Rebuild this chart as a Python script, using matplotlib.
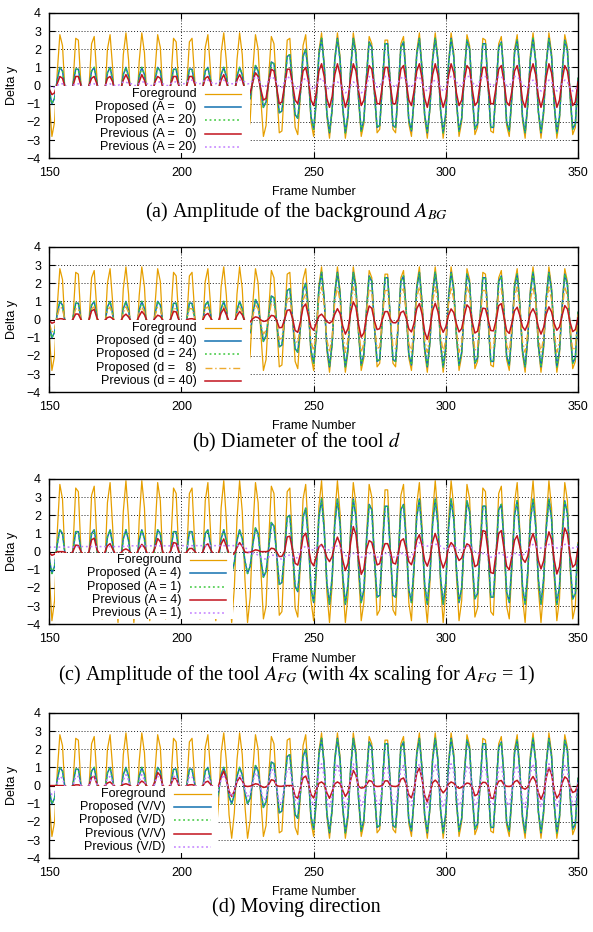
import matplotlib
matplotlib.use('Agg')
import matplotlib.pyplot as plt
from matplotlib.patches import Rectangle

plt.rcParams['font.family'] = ['Liberation Sans', 'DejaVu Sans']
plt.rcParams['mathtext.fontset'] = 'stix'

# ---- data (frame 150 .. 350, one value per frame) ----
FRAMES = list(range(150, 351))

FG = [
    -0.9, -2.8, -2.0, 0.7, 2.8, 2.2, -0.5, -2.7, -2.3, 0.2,
    2.6, 2.5, 0.0, -2.5, -2.6, -0.2, 2.3, 2.7, 0.5, -2.2,
    -2.8, -0.7, 2.0, 2.8, 0.9, -1.9, -2.9, -1.2, 1.7, 2.9,
    1.4, -1.5, -2.9, -1.6, 1.3, 2.9, 1.8, -1.0, -2.9, -1.9,
    0.8, 2.8, 2.1, -0.6, -2.7, -2.3, 0.3, 2.6, 2.4, -0.1,
    -2.5, -2.5, -0.1, 2.4, 2.6, 0.4, -2.3, -2.7, -0.6, 2.1,
    2.8, 0.8, -1.9, -2.9, -1.0, 1.8, 2.9, 1.3, -1.6, -2.9,
    -1.5, 1.4, 2.9, 1.7, -1.1, -2.9, -1.9, 0.9, 2.8, 2.0,
    -0.7, -2.8, -2.2, 0.5, 2.7, 2.3, -0.2, -2.6, -2.5, 0.0,
    2.5, 2.6, 0.2, -2.3, -2.7, -0.5, 2.2, 2.8, 0.7, -2.0,
    -2.8, -0.9, 1.9, 2.9, 1.2, -1.7, -2.9, -1.4, 1.5, 2.9,
    1.6, -1.3, -2.9, -1.8, 1.0, 2.9, 1.9, -0.8, -2.8, -2.1,
    0.6, 2.7, 2.3, -0.4, -2.6, -2.4, 0.1, 2.5, 2.5, 0.1,
    -2.4, -2.6, -0.3, 2.3, 2.7, 0.6, -2.1, -2.8, -0.8, 1.9,
    2.9, 1.0, -1.8, -2.9, -1.3, 1.6, 2.9, 1.5, -1.4, -2.9,
    -1.7, 1.2, 2.9, 1.8, -0.9, -2.8, -2.0, 0.7, 2.8, 2.2,
    -0.5, -2.7, -2.3, 0.2, 2.6, 2.5, 0.0, -2.5, -2.6, -0.2,
    2.3, 2.7, 0.5, -2.2, -2.8, -0.7, 2.0, 2.8, 0.9, -1.9,
    -2.9, -1.1, 1.7, 2.9, 1.4, -1.5, -2.9, -1.6, 1.3, 2.9,
    1.8, -1.1, -2.9, -1.9, 0.8, 2.8, 2.1, -0.6, -2.7, -2.3,
    0.4]

PROP = [
    -0.3, -1.0, -0.7, 0.3, 1.0, 0.8, -0.2, -1.0, -0.8, 0.1,
    0.9, 0.9, 0.0, -0.9, -0.9, -0.1, 0.8, 1.0, 0.2, -0.8,
    -1.0, -0.3, 0.7, 1.0, 0.3, -0.7, -1.0, -0.4, 0.6, 1.0,
    0.5, -0.5, -1.0, -0.6, 0.5, 1.0, 0.6, -0.4, -1.0, -0.7,
    0.3, 1.0, 0.8, -0.2, -1.0, -0.8, 0.1, 0.9, 0.9, 0.0,
    -0.9, -0.9, 0.0, 0.9, 0.9, 0.1, -0.8, -1.0, -0.2, 0.8,
    1.0, 0.3, -0.7, -1.0, -0.4, 0.6, 1.0, 0.5, -0.6, -1.0,
    -0.5, 0.5, 1.0, 0.6, -0.4, -1.0, -0.7, 0.3, 1.1, 0.8,
    -0.3, -1.2, -0.9, 0.2, 1.3, 1.2, -0.1, -1.5, -1.4, 0.0,
    1.6, 1.7, 0.1, -1.6, -1.8, -0.4, 1.6, 2.0, 0.6, -1.7,
    -2.4, -0.8, 1.7, 2.6, 1.1, -1.5, -2.6, -1.3, 1.4, 2.6,
    1.4, -1.2, -2.6, -1.6, 0.9, 2.6, 1.7, -0.7, -2.5, -1.9,
    0.5, 2.4, 2.1, -0.4, -2.3, -2.2, 0.1, 2.3, 2.3, 0.1,
    -2.2, -2.3, -0.3, 2.1, 2.4, 0.5, -1.9, -2.5, -0.7, 1.7,
    2.6, 0.9, -1.6, -2.6, -1.2, 1.4, 2.6, 1.4, -1.3, -2.6,
    -1.5, 1.1, 2.6, 1.6, -0.8, -2.5, -1.8, 0.6, 2.5, 2.0,
    -0.5, -2.4, -2.1, 0.2, 2.3, 2.3, 0.0, -2.3, -2.3, -0.2,
    2.1, 2.4, 0.5, -2.0, -2.5, -0.6, 1.8, 2.5, 0.8, -1.7,
    -2.6, -1.0, 1.5, 2.6, 1.3, -1.4, -2.6, -1.4, 1.2, 2.6,
    1.6, -1.0, -2.6, -1.7, 0.7, 2.5, 1.9, -0.5, -2.4, -2.1,
    0.4]

PREV_A0 = [
    -0.2, -0.5, -0.4, 0.1, 0.5, 0.4, -0.1, -0.5, -0.4, 0.0,
    0.5, 0.5, 0.0, -0.5, -0.5, 0.0, 0.4, 0.5, 0.1, -0.4,
    -0.5, -0.1, 0.4, 0.5, 0.2, -0.4, -0.6, -0.2, 0.3, 0.6,
    0.3, -0.3, -0.6, -0.3, 0.2, 0.6, 0.3, -0.2, -0.6, -0.4,
    0.2, 0.5, 0.4, -0.1, -0.5, -0.4, 0.1, 0.5, 0.5, 0.0,
    -0.5, -0.5, 0.0, 0.5, 0.5, 0.1, -0.4, -0.5, -0.1, 0.4,
    0.5, 0.2, -0.4, -0.6, -0.2, 0.3, 0.6, 0.2, -0.3, -0.6,
    -0.3, 0.3, 0.6, 0.3, -0.2, -0.6, -0.4, 0.2, 0.7, 0.5,
    -0.2, -0.8, -0.7, 0.2, 0.9, 0.8, -0.1, -1.0, -0.9, 0.0,
    0.9, 0.9, 0.1, -0.8, -1.0, -0.2, 0.8, 1.0, 0.3, -0.8,
    -1.1, -0.4, 0.8, 1.2, 0.5, -0.7, -1.2, -0.6, 0.6, 1.2,
    0.6, -0.5, -1.2, -0.7, 0.4, 1.2, 0.8, -0.3, -1.1, -0.8,
    0.2, 1.1, 0.9, -0.2, -1.0, -1.0, 0.0, 1.0, 1.0, 0.0,
    -1.0, -1.0, -0.1, 0.9, 1.1, 0.2, -0.8, -1.1, -0.3, 0.8,
    1.2, 0.4, -0.7, -1.2, -0.5, 0.6, 1.2, 0.6, -0.6, -1.2,
    -0.7, 0.5, 1.2, 0.7, -0.4, -1.1, -0.8, 0.3, 1.1, 0.9,
    -0.2, -1.1, -0.9, 0.1, 1.0, 1.0, 0.0, -1.0, -1.0, -0.1,
    0.9, 1.1, 0.2, -0.9, -1.1, -0.3, 0.8, 1.1, 0.4, -0.8,
    -1.2, -0.4, 0.7, 1.2, 0.6, -0.6, -1.2, -0.6, 0.5, 1.2,
    0.7, -0.4, -1.2, -0.8, 0.3, 1.1, 0.8, -0.2, -1.1, -0.9,
    0.2]

PREV_A20 = [
    0.0, -0.1, -0.1, 0.0, 0.1, 0.1, 0.0, -0.1, -0.1, 0.0,
    0.1, 0.1, 0.0, -0.1, -0.1, 0.0, 0.1, 0.1, 0.0, -0.1,
    -0.1, 0.0, 0.1, 0.1, 0.0, 0.0, 0.0, 0.1, 0.2, 0.2,
    0.1, 0.1, 0.0, 0.0, 0.1, 0.2, 0.2, 0.1, 0.0, 0.0,
    0.1, 0.2, 0.2, 0.1, 0.0, 0.0, 0.1, 0.2, 0.2, 0.1,
    0.1, 0.1, 0.2, 0.3, 0.3, 0.2, 0.1, 0.1, 0.2, 0.3,
    0.3, 0.2, 0.1, 0.1, 0.2, 0.3, 0.3, 0.2, 0.1, 0.1,
    0.1, 0.2, 0.3, 0.3, 0.2, 0.1, 0.1, 0.3, 0.5, 0.4,
    0.1, -0.1, 0.0, 0.3, 0.5, 0.4, 0.2, -0.1, -0.1, 0.2,
    0.5, 0.4, 0.1, -0.1, -0.2, 0.0, 0.3, 0.4, 0.2, -0.1,
    -0.2, 0.0, 0.3, 0.4, 0.2, -0.1, -0.2, 0.0, 0.2, 0.2,
    0.1, -0.2, -0.4, -0.3, 0.0, 0.2, 0.1, -0.2, -0.4, -0.3,
    0.0, 0.5, 0.4, 0.2, -0.1, 0.0, 0.2, 0.5, 0.5, 0.2,
    0.0, -0.1, 0.2, 0.4, 0.5, 0.3, 0.0, -0.1, 0.1, 0.4,
    0.5, 0.1, -0.2, -0.3, -0.1, 0.2, 0.3, 0.2, -0.1, -0.3,
    -0.2, 0.4, 0.5, 0.4, 0.2, 0.0, 0.0, 0.3, 0.5, 0.5,
    0.2, 0.0, 0.0, 0.3, 0.5, 0.5, 0.3, 0.0, 0.0, 0.2,
    0.5, 0.5, 0.3, 0.0, 0.0, 0.2, 0.5, 0.5, 0.3, 0.1,
    -0.1, -0.1, 0.2, 0.3, 0.1, -0.2, -0.3, -0.2, 0.1, 0.3,
    0.2, -0.1, -0.3, -0.2, 0.1, 0.3, 0.2, -0.1, -0.3, -0.2,
    0.0]

PROP_D8 = [
    -0.2, -0.7, -0.5, 0.2, 0.7, 0.6, -0.1, -0.7, -0.6, 0.1,
    0.6, 0.6, 0.0, -0.6, -0.6, -0.1, 0.6, 0.7, 0.1, -0.6,
    -0.7, -0.2, 0.5, 0.7, 0.2, -0.5, -0.7, -0.3, 0.4, 0.7,
    0.4, -0.4, -0.7, -0.4, 0.4, 0.7, 0.4, -0.3, -0.7, -0.5,
    0.2, 0.7, 0.6, -0.1, -0.7, -0.6, 0.1, 0.6, 0.6, 0.0,
    -0.6, -0.6, 0.0, 0.6, 0.6, 0.1, -0.6, -0.7, -0.1, 0.6,
    0.7, 0.2, -0.5, -0.7, -0.3, 0.4, 0.7, 0.4, -0.4, -0.7,
    -0.4, 0.4, 0.7, 0.4, -0.3, -0.7, -0.5, 0.2, 0.8, 0.6,
    -0.2, -0.8, -0.6, 0.1, 0.9, 0.8, -0.1, -1.1, -1.0, 0.0,
    1.1, 1.2, 0.1, -1.1, -1.3, -0.3, 1.1, 1.4, 0.4, -1.2,
    -1.7, -0.6, 1.2, 1.8, 0.8, -1.1, -1.8, -0.9, 1.0, 1.8,
    1.0, -0.8, -1.8, -1.1, 0.6, 1.8, 1.2, -0.5, -1.8, -1.3,
    0.4, 1.7, 1.5, -0.3, -1.6, -1.5, 0.1, 1.6, 1.6, 0.1,
    -1.5, -1.6, -0.2, 1.5, 1.7, 0.4, -1.3, -1.8, -0.5, 1.2,
    1.8, 0.6, -1.1, -1.8, -0.8, 1.0, 1.8, 1.0, -0.9, -1.8,
    -1.1, 0.8, 1.8, 1.1, -0.6, -1.8, -1.3, 0.4, 1.8, 1.4,
    -0.4, -1.7, -1.5, 0.1, 1.6, 1.6, 0.0, -1.6, -1.6, -0.1,
    1.5, 1.7, 0.4, -1.4, -1.8, -0.4, 1.3, 1.8, 0.6, -1.2,
    -1.8, -0.7, 1.1, 1.8, 0.9, -1.0, -1.8, -1.0, 0.8, 1.8,
    1.1, -0.7, -1.8, -1.2, 0.5, 1.8, 1.3, -0.4, -1.7, -1.5,
    0.3]

PREV_D40 = [
    -0.06, -0.20, -0.14, 0.00, 0.05, 0.04, -0.03, -0.19, -0.16, 0.03,
    0.31, 0.30, 0.00, -0.17, -0.18, -0.02, 0.48, 0.56, 0.10, -0.15,
    -0.19, -0.05, 0.11, 0.15, 0.05, -0.13, -0.20, -0.08, 0.17, 0.30,
    0.14, -0.10, -0.20, -0.11, 0.19, 0.45, 0.27, -0.07, -0.20, -0.13,
    0.07, 0.24, 0.18, -0.04, -0.19, -0.16, 0.06, 0.45, 0.42, -0.01,
    -0.17, -0.17, -0.01, 0.04, 0.05, 0.01, -0.16, -0.19, -0.04, 0.25,
    0.34, 0.10, -0.13, -0.20, -0.07, 0.36, 0.60, 0.26, -0.11, -0.20,
    -0.10, 0.21, 0.45, 0.26, -0.08, -0.20, -0.13, 0.05, 0.15, 0.11,
    -0.02, -0.10, -0.08, 0.04, 0.23, 0.20, -0.04, -0.45, -0.43, 0.00,
    0.51, 0.54, 0.08, -0.60, -0.70, -0.12, 0.68, 0.86, 0.22, -0.42,
    -0.59, -0.19, 0.19, 0.30, 0.12, -0.11, -0.20, -0.09, 0.30, 0.60,
    0.33, -0.35, -0.80, -0.49, 0.36, 0.98, 0.67, -0.28, -0.97, -0.73,
    0.16, 0.75, 0.62, -0.07, -0.55, -0.50, 0.02, 0.44, 0.44, 0.02,
    -0.17, -0.18, -0.02, 0.39, 0.47, 0.10, -0.51, -0.68, -0.20, 0.60,
    0.88, 0.32, -0.67, -1.09, -0.47, 0.49, 0.90, 0.45, -0.33, -0.70,
    -0.40, 0.24, 0.59, 0.38, -0.23, -0.68, -0.49, 0.21, 0.81, 0.64,
    -0.13, -0.74, -0.64, 0.06, 0.63, 0.60, 0.00, -0.60, -0.62, -0.05,
    0.77, 0.88, 0.15, -0.61, -0.76, -0.19, 0.49, 0.68, 0.22, -0.39,
    -0.59, -0.24, 0.35, 0.60, 0.28, -0.41, -0.80, -0.43, 0.31, 0.70,
    0.42, -0.22, -0.59, -0.40, 0.23, 0.77, 0.58, -0.14, -0.66, -0.55,
    0.10]

FG_C = [
    -1.3, -3.8, -2.7, 1.0, 3.7, 2.9, -0.6, -3.6, -3.1, 0.3,
    3.5, 3.3, 0.0, -3.3, -3.5, -0.3, 3.1, 3.6, 0.6, -2.9,
    -3.7, -0.9, 2.7, 3.8, 1.3, -2.5, -3.9, -1.5, 2.2, 3.9,
    1.8, -2.0, -3.9, -2.1, 1.7, 3.9, 2.4, -1.4, -3.8, -2.6,
    1.1, 3.8, 2.8, -0.8, -3.7, -3.1, 0.5, 3.5, 3.2, -0.2,
    -3.4, -3.4, -0.2, 3.2, 3.5, 0.5, -3.0, -3.7, -0.8, 2.8,
    3.8, 1.1, -2.6, -3.8, -1.4, 2.4, 3.9, 1.7, -2.1, -3.9,
    -2.0, 1.8, 3.9, 2.2, -1.5, -3.9, -2.5, 1.2, 3.8, 2.7,
    -0.9, -3.7, -3.0, 0.6, 3.6, 3.2, -0.3, -3.5, -3.3, 0.0,
    3.3, 3.5, 0.3, -3.1, -3.6, -0.6, 2.9, 3.7, 1.0, -2.7,
    -3.8, -1.3, 2.5, 3.9, 1.5, -2.2, -3.9, -1.8, 2.0, 3.9,
    2.1, -1.7, -3.9, -2.4, 1.4, 3.8, 2.6, -1.1, -3.8, -2.8,
    0.8, 3.7, 3.0, -0.5, -3.5, -3.2, 0.2, 3.4, 3.4, 0.2,
    -3.2, -3.5, -0.5, 3.1, 3.7, 0.8, -2.8, -3.8, -1.1, 2.6,
    3.8, 1.4, -2.4, -3.9, -1.7, 2.1, 3.9, 2.0, -1.8, -3.9,
    -2.2, 1.6, 3.9, 2.5, -1.3, -3.8, -2.7, 1.0, 3.7, 2.9,
    -0.6, -3.6, -3.1, 0.3, 3.5, 3.3, 0.0, -3.3, -3.5, -0.3,
    3.2, 3.6, 0.6, -3.0, -3.7, -0.9, 2.7, 3.8, 1.2, -2.5,
    -3.9, -1.5, 2.3, 3.9, 1.8, -2.0, -3.9, -2.1, 1.7, 3.9,
    2.4, -1.4, -3.8, -2.6, 1.1, 3.8, 2.8, -0.8, -3.7, -3.0,
    0.5]

PROP_C4 = [
    -0.4, -1.2, -0.8, 0.4, 1.2, 1.0, -0.2, -1.2, -1.0, 0.1,
    1.1, 1.1, 0.0, -1.1, -1.1, -0.1, 1.0, 1.2, 0.2, -1.0,
    -1.2, -0.4, 0.8, 1.2, 0.4, -0.8, -1.2, -0.5, 0.7, 1.2,
    0.6, -0.6, -1.2, -0.7, 0.6, 1.2, 0.7, -0.5, -1.2, -0.8,
    0.4, 1.2, 1.0, -0.2, -1.2, -1.0, 0.1, 1.1, 1.1, 0.0,
    -1.1, -1.1, 0.0, 1.1, 1.1, 0.1, -1.0, -1.2, -0.2, 1.0,
    1.2, 0.4, -0.8, -1.2, -0.5, 0.7, 1.2, 0.6, -0.7, -1.2,
    -0.6, 0.6, 1.2, 0.7, -0.5, -1.2, -0.8, 0.4, 1.3, 1.0,
    -0.4, -1.4, -1.1, 0.2, 1.6, 1.4, -0.1, -1.8, -1.7, 0.0,
    1.9, 2.0, 0.1, -1.9, -2.2, -0.5, 1.9, 2.4, 0.7, -2.0,
    -2.8, -0.9, 1.9, 2.9, 1.2, -1.7, -2.9, -1.4, 1.5, 2.9,
    1.5, -1.3, -2.9, -1.8, 1.0, 2.9, 1.9, -0.8, -2.8, -2.1,
    0.6, 2.6, 2.3, -0.4, -2.5, -2.4, 0.1, 2.5, 2.5, 0.1,
    -2.4, -2.5, -0.3, 2.3, 2.6, 0.6, -2.1, -2.8, -0.8, 1.9,
    2.9, 1.0, -1.8, -2.9, -1.3, 1.5, 2.9, 1.5, -1.4, -2.9,
    -1.7, 1.2, 2.9, 1.8, -0.9, -2.8, -2.0, 0.7, 2.8, 2.2,
    -0.6, -2.6, -2.3, 0.2, 2.5, 2.5, 0.0, -2.5, -2.5, -0.2,
    2.3, 2.6, 0.6, -2.2, -2.8, -0.7, 2.0, 2.8, 0.9, -1.9,
    -2.9, -1.1, 1.7, 2.9, 1.4, -1.5, -2.9, -1.5, 1.3, 2.9,
    1.8, -1.1, -2.9, -1.9, 0.8, 2.8, 2.1, -0.6, -2.6, -2.3,
    0.4]

PREV_C4 = [
    -0.06, -0.20, -0.14, 0.00, 0.00, 0.00, -0.03, -0.19, -0.16, 0.03,
    0.36, 0.34, 0.00, -0.17, -0.18, -0.02, 0.65, 0.74, 0.13, -0.15,
    -0.19, -0.05, 0.32, 0.44, 0.14, -0.13, -0.20, -0.08, 0.09, 0.15,
    0.07, -0.10, -0.20, -0.11, 0.17, 0.40, 0.24, -0.07, -0.20, -0.13,
    0.21, 0.72, 0.55, -0.04, -0.19, -0.16, 0.07, 0.50, 0.46, -0.01,
    -0.17, -0.17, -0.01, 0.17, 0.18, 0.02, -0.16, -0.19, -0.04, 0.33,
    0.43, 0.13, -0.13, -0.20, -0.07, 0.42, 0.70, 0.30, -0.11, -0.20,
    -0.10, 0.23, 0.50, 0.29, -0.02, -0.05, -0.03, 0.03, 0.10, 0.07,
    0.00, 0.00, 0.00, 0.03, 0.19, 0.16, -0.02, -0.27, -0.26, 0.00,
    0.81, 0.85, 0.09, -0.64, -0.74, -0.13, 0.81, 1.02, 0.26, -0.56,
    -0.78, -0.26, 0.26, 0.40, 0.16, -0.32, -0.55, -0.26, 0.40, 0.80,
    0.43, -0.46, -1.04, -0.64, 0.50, 1.38, 0.94, -0.37, -1.25, -0.95,
    0.13, 0.61, 0.51, -0.10, -0.73, -0.66, 0.02, 0.44, 0.44, 0.02,
    -0.62, -0.68, -0.09, 0.59, 0.71, 0.15, -0.55, -0.72, -0.21, 0.64,
    0.93, 0.34, -0.49, -0.80, -0.34, 0.54, 1.00, 0.50, -0.43, -0.90,
    -0.51, 0.20, 0.50, 0.32, -0.16, -0.49, -0.35, 0.11, 0.43, 0.34,
    -0.15, -0.83, -0.72, 0.11, 1.16, 1.11, -0.01, -1.15, -1.20, -0.10,
    1.01, 1.16, 0.20, -0.80, -1.00, -0.25, 0.63, 0.88, 0.28, -0.39,
    -0.59, -0.24, 0.58, 1.00, 0.47, -0.48, -0.95, -0.51, 0.48, 1.09,
    0.67, -0.45, -1.23, -0.83, 0.39, 1.30, 0.98, -0.19, -0.85, -0.70,
    0.17]

PREV_C1 = [
    0.25, 0.25, 0.25, 0.25, 0.25, 0.25, 0.25, 0.25, 0.25, 0.25,
    0.28, 0.28, 0.28, 0.28, 0.28, 0.28, 0.28, 0.28, 0.28, 0.28,
    0.28, 0.28, 0.28, 0.28, 0.28, 0.28, 0.28, 0.28, 0.28, 0.28,
    0.32, 0.32, 0.32, 0.32, 0.32, 0.32, 0.32, 0.32, 0.32, 0.32,
    0.32, 0.32, 0.32, 0.32, 0.32, 0.32, 0.32, 0.32, 0.32, 0.32,
    0.33, 0.33, 0.33, 0.33, 0.33, 0.33, 0.33, 0.33, 0.33, 0.33,
    0.33, 0.33, 0.33, 0.33, 0.33, 0.33, 0.33, 0.33, 0.33, 0.33,
    0.33, 0.33, 0.33, 0.33, 0.25, 0.10, -0.1, -0.1, -0.1, -0.2,
    -0.3, -0.4, -0.4, -0.3, -0.2, -0.2, -0.3, -0.4, -0.4, -0.3,
    -0.2, -0.2, -0.3, -0.4, -0.3, 0.0, 0.2, 0.3, 0.2, 0.1,
    0.1, 0.2, 0.3, 0.3, 0.2, 0.1, 0.1, 0.2, 0.3, 0.3,
    0.2, 0.0, -0.2, -0.3, -0.2, -0.1, -0.1, -0.2, -0.3, -0.3,
    -0.2, -0.1, -0.1, -0.2, -0.3, -0.3, -0.2, -0.1, -0.1, -0.2,
    -0.3, -0.3, -0.2, -0.1, -0.1, -0.2, -0.3, -0.3, 0.0, 0.3,
    0.5, 0.4, 0.3, 0.3, 0.4, 0.4, 0.4, 0.4, 0.3, 0.2,
    0.1, 0.2, 0.3, 0.3, 0.2, 0.1, 0.1, 0.2, 0.3, 0.3,
    0.2, 0.0, -0.1, -0.1, -0.1, -0.1, -0.2, -0.3, -0.3, -0.2,
    -0.1, -0.1, -0.2, -0.3, -0.3, -0.2, -0.1, -0.1, -0.2, -0.2,
    -0.1, 0.1, 0.3, 0.4, 0.3, 0.2, 0.2, 0.2, 0.3, 0.4,
    0.4, 0.3, 0.2, 0.2, 0.3, 0.4, 0.4, 0.3, 0.2, 0.2,
    0.3]

PREV_VV = [
    0.00, 0.00, 0.00, 0.00, 0.00, 0.00, -0.02, -0.09, -0.08, 0.00,
    0.04, 0.04, 0.00, -0.09, -0.09, -0.01, 0.44, 0.51, 0.09, -0.08,
    -0.10, -0.02, 0.14, 0.20, 0.06, -0.06, -0.10, -0.04, 0.06, 0.10,
    0.05, -0.05, -0.10, -0.05, 0.11, 0.25, 0.15, -0.04, -0.10, -0.07,
    0.21, 0.72, 0.55, -0.02, -0.09, -0.08, 0.05, 0.41, 0.37, 0.00,
    -0.09, -0.09, 0.00, 0.04, 0.05, 0.01, -0.08, -0.09, -0.02, 0.18,
    0.24, 0.07, -0.07, -0.10, -0.04, 0.48, 0.80, 0.35, -0.32, -0.60,
    -0.30, 0.21, 0.45, 0.26, -0.02, -0.05, -0.03, 0.03, 0.10, 0.07,
    -0.02, -0.10, -0.08, 0.06, 0.32, 0.28, 0.00, -0.04, -0.04, 0.00,
    0.00, 0.00, 0.00, -0.60, -0.70, -0.12, 0.42, 0.52, 0.13, -0.49,
    -0.68, -0.23, 0.13, 0.20, 0.08, -0.40, -0.70, -0.33, 0.10, 0.20,
    0.11, -0.26, -0.60, -0.36, 0.31, 0.84, 0.57, -0.04, -0.14, -0.11,
    0.06, 0.28, 0.23, -0.01, -0.05, -0.04, 0.01, 0.26, 0.26, 0.01,
    -0.04, -0.05, -0.01, 0.35, 0.42, 0.09, -0.51, -0.68, -0.20, 0.67,
    0.98, 0.36, -0.55, -0.90, -0.39, 0.16, 0.30, 0.15, -0.19, -0.40,
    -0.23, 0.08, 0.20, 0.13, -0.05, -0.15, -0.10, 0.04, 0.14, 0.11,
    -0.10, -0.56, -0.48, 0.02, 0.18, 0.17, 0.00, -0.68, -0.71, -0.06,
    0.24, 0.28, 0.05, -0.04, -0.05, -0.01, 0.21, 0.29, 0.09, -0.13,
    -0.20, -0.08, 0.29, 0.50, 0.23, -0.38, -0.75, -0.40, 0.44, 1.00,
    0.61, -0.25, -0.69, -0.47, 0.14, 0.48, 0.36, -0.08, -0.38, -0.31,
    0.06]

XTICKS = [150, 200, 250, 300, 350]
YTICKS = [-4, -3, -2, -1, 0, 1, 2, 3, 4]

# ---- styles ----
ORANGE = '#E69F00'
BLUE = '#1372B0'
GREEN = '#3CC83C'
RED = '#C2141E'
PURPLE = '#C27FFF'
LORANGE = '#EDAA30'
DOT = (0, (1.2, 1.8))
DASHDOT = (0, (5, 2, 1, 2))

PANELS = [
    dict(bottom=0.8302, caption='(a) Amplitude of the background $A_{BG}$', cap_y=0.7725,
         text_x=205.6, line=(208.8, 222.6), box_right=226.0,
         series=[(FG, 'Foreground', ORANGE, '-', 0.9),
                 (PROP, 'Proposed (A =   0)', BLUE, '-', 1.1),
                 (PROP, 'Proposed (A = 20)', GREEN, DOT, 1.1),
                 (PREV_A0, 'Previous (A =   0)', RED, '-', 1.1),
                 (PREV_A20, 'Previous (A = 20)', PURPLE, DOT, 1.1)]),
    dict(bottom=0.5791, caption='(b) Diameter of the tool $d$', cap_y=0.5247,
         text_x=205.6, line=(208.8, 222.6), box_right=226.0,
         series=[(FG, 'Foreground', ORANGE, '-', 0.9),
                 (PROP, 'Proposed (d = 40)', BLUE, '-', 1.1),
                 (PROP, 'Proposed (d = 24)', GREEN, DOT, 1.1),
                 (PROP_D8, 'Proposed (d =   8)', LORANGE, DASHDOT, 1.0),
                 (PREV_D40, 'Previous (d = 40)', RED, '-', 1.1)]),
    dict(bottom=0.3301, caption='(c) Amplitude of the tool $A_{FG}$ (with 4x scaling for $A_{FG}$ = 1)',
         cap_y=0.2758, text_x=200.0, line=(203.1, 216.9), box_right=219.5,
         series=[(FG_C, 'Foreground', ORANGE, '-', 0.9),
                 (PROP_C4, 'Proposed (A = 4)', BLUE, '-', 1.1),
                 (PROP_C4, 'Proposed (A = 1)', GREEN, DOT, 1.1),
                 (PREV_C4, 'Previous (A = 4)', RED, '-', 1.1),
                 (PREV_C1, 'Previous (A = 1)', PURPLE, DOT, 1.1)]),
    dict(bottom=0.0791, caption='(d) Moving direction', cap_y=0.0268,
         text_x=194.0, line=(197.2, 211.3), box_right=213.8,
         series=[(FG, 'Foreground', ORANGE, '-', 0.9),
                 (PROP, 'Proposed (V/V)', BLUE, '-', 1.1),
                 (PROP, 'Proposed (V/D)', GREEN, DOT, 1.1),
                 (PREV_VV, 'Previous (V/V)', RED, '-', 1.1),
                 (PREV_A0, 'Previous (V/D)', PURPLE, DOT, 1.1)]),
]

fig = plt.figure(figsize=(5.93, 9.32), dpi=100)

for p in PANELS:
    ax = fig.add_axes([0.0831, p['bottom'], 0.8916, 0.156])
    ax.set_xlim(150, 350)
    ax.set_ylim(-4, 4)
    ax.set_xticks(XTICKS)
    ax.set_yticks(YTICKS)
    ax.set_axisbelow(True)
    ax.grid(True, color='#222222', lw=0.7, ls=(0, (1, 2)))
    ax.tick_params(direction='in', top=True, right=True, length=4, width=0.8,
                   labelsize=9, pad=6)
    for s in ax.spines.values():
        s.set_linewidth(1.0)

    for vals, lab, col, ls, lw in p['series']:
        ax.plot(FRAMES, vals, color=col, ls=ls, lw=lw, zorder=2)

    # opaque key box (gnuplot style, right-justified labels)
    ax.add_patch(Rectangle((152.2, -3.72), p['box_right'] - 152.2, 3.67,
                           facecolor='white', edgecolor='none', zorder=3))
    for i, (vals, lab, col, ls, lw) in enumerate(p['series']):
        y = -0.48 - 0.72 * i
        ax.text(p['text_x'], y, lab, ha='right', va='center', fontsize=9, zorder=4)
        ax.plot(list(p['line']), [y, y], color=col, ls=ls, lw=lw, zorder=4)

    ax.text(-0.0706, 0.5, 'Delta y', rotation=90, ha='center', va='center',
            fontsize=9, transform=ax.transAxes)
    ax.text(0.5, -0.235, 'Frame Number', ha='center', va='center',
            fontsize=9, transform=ax.transAxes)
    fig.text(0.5, p['cap_y'], p['caption'], ha='center', va='center',
             fontsize=14.5, family=['Liberation Serif', 'DejaVu Serif'])

fig.savefig('out.png', dpi=100)
